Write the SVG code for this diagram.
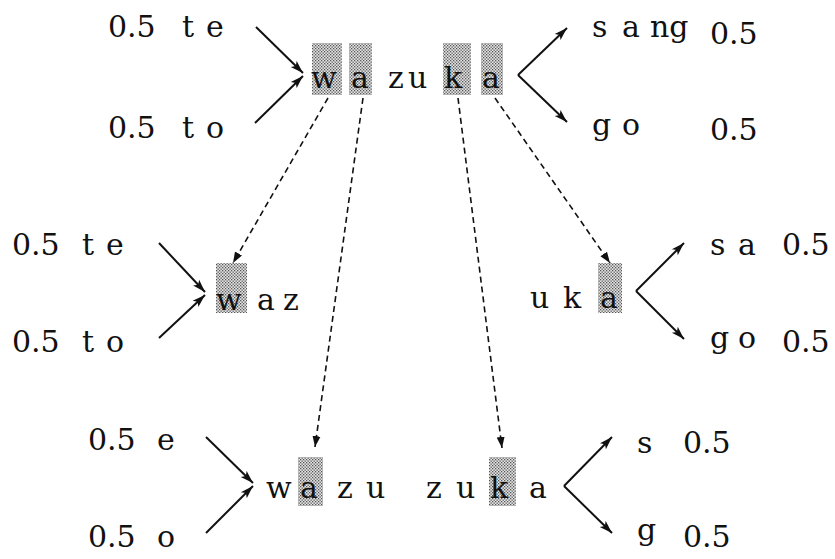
<svg xmlns="http://www.w3.org/2000/svg" width="835" height="559" viewBox="0 0 835 559">
<style>
text{font-family:"DejaVu Serif","Liberation Serif",serif;font-size:30px;fill:#111}
.hl{fill:url(#dots)}
.sol{stroke:#111;stroke-width:2;fill:none;marker-end:url(#ah)}
.dsh{stroke:#111;stroke-width:1.6;fill:none;stroke-dasharray:6 4;marker-end:url(#ahs)}
</style>
<defs>
<pattern id="dots" width="3" height="3" patternUnits="userSpaceOnUse">
<rect width="3" height="3" fill="#e4e4e4"/>
<rect x="0" y="0" width="1.3" height="1.3" fill="#555"/>
<rect x="1.5" y="1.5" width="1.3" height="1.3" fill="#555"/>
</pattern>
<marker id="ah" markerUnits="userSpaceOnUse" markerWidth="14" markerHeight="10" refX="13" refY="5" orient="auto">
<path d="M0,0.8 L13,5 L0,9.2 L3,5 z" fill="#111"/>
</marker>
<marker id="ahs" markerUnits="userSpaceOnUse" markerWidth="12" markerHeight="10" refX="11" refY="5" orient="auto">
<path d="M0,1 L11,5 L0,9 z" fill="#111"/>
</marker>
</defs>

<g id="top-left-inputs">
<text x="108" y="37">0.5</text>
<text x="182 206" y="37">te</text>
<text x="108" y="138">0.5</text>
<text x="182 206" y="138">to</text>
</g>

<g id="node-wazuka">
<rect class="hl" x="312" y="43" width="30" height="52"/>
<rect class="hl" x="349" y="43" width="23" height="52"/>
<rect class="hl" x="443" y="43" width="28" height="52"/>
<rect class="hl" x="481" y="43" width="22" height="52"/>
<text x="311 351 388 408 444 482" y="88">wazuka</text>
</g>

<g id="top-right-outputs">
<text x="592 622 650" y="37">sang</text>
<text x="710" y="44">0.5</text>
<text x="592 622" y="135">go</text>
<text x="710" y="140">0.5</text>
</g>

<g id="mid-left-inputs">
<text x="12" y="255">0.5</text>
<text x="82 106" y="255">te</text>
<text x="12" y="352">0.5</text>
<text x="82 106" y="352">to</text>
</g>

<g id="node-waz">
<rect class="hl" x="216" y="263" width="31" height="50"/>
<text x="216 257 283" y="310">waz</text>
</g>

<g id="node-uka">
<rect class="hl" x="598" y="263" width="24" height="50"/>
<text x="530 563 600" y="308">uka</text>
</g>

<g id="mid-right-outputs">
<text x="710 738" y="255">sa</text>
<text x="782" y="255">0.5</text>
<text x="710 738" y="348">go</text>
<text x="782" y="352">0.5</text>
</g>

<g id="bottom-left-inputs">
<text x="88" y="450">0.5</text>
<text x="157" y="450">e</text>
<text x="88" y="547">0.5</text>
<text x="157" y="547">o</text>
</g>

<g id="node-wazu-zuka">
<rect class="hl" x="298" y="457" width="25" height="49"/>
<rect class="hl" x="489" y="457" width="27" height="49"/>
<text x="266 300 337 366 426 456 490 529" y="498">wazuzuka</text>
</g>

<g id="bottom-right-outputs">
<text x="637" y="453">s</text>
<text x="683" y="453">0.5</text>
<text x="637" y="540">g</text>
<text x="683" y="547">0.5</text>
</g>

<g id="connectors">
<path class="sol" d="M256,27 L303,73"/>
<path class="sol" d="M255,123 L303,76"/>
<path class="sol" d="M518,75 L567,28"/>
<path class="sol" d="M518,75 L567,122"/>
<path class="sol" d="M159,243 L205,292"/>
<path class="sol" d="M159,338 L205,295"/>
<path class="sol" d="M636,291 L684,243"/>
<path class="sol" d="M636,291 L684,339"/>
<path class="sol" d="M206,437 L253,483"/>
<path class="sol" d="M206,533 L253,486"/>
<path class="sol" d="M564,486 L612,437"/>
<path class="sol" d="M564,486 L612,533"/>
<path class="dsh" d="M328,98 L233,263"/>
<path class="dsh" d="M363,98 L315,447"/>
<path class="dsh" d="M458,98 L502,448"/>
<path class="dsh" d="M495,98 L610,263"/>
</g>
</svg>
